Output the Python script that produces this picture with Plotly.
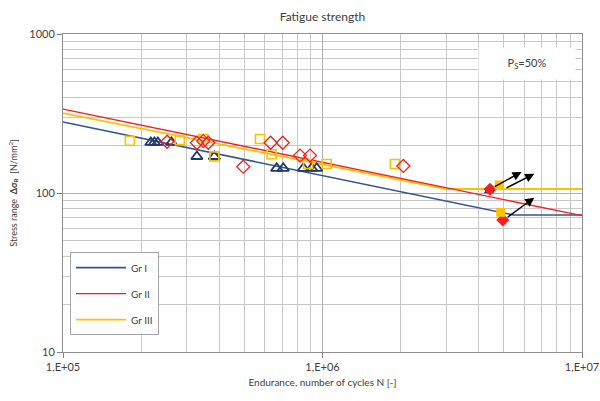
import numpy as np
import plotly.graph_objects as go

# ---------------- data ----------------
# S-N curves (endurance N, stress range in N/mm2)
gr1_line_n = [1e5, 5.45e6, 1e7]
gr1_line_s = [279.5, 72.7, 72.7]
gr2_line_n = [1e5, 1e7]
gr2_line_s = [337, 72]
gr3_line_n = [1e5, 3.0e6, 1e7]
gr3_line_s = [318, 106, 106]

# test results (open markers)
gr1_n = [2.18e5, 2.25e5, 2.32e5, 2.62e5, 3.28e5, 3.83e5, 6.66e5, 7.06e5, 8.44e5, 9.08e5, 9.5e5]
gr1_s = [208, 208, 208, 208, 169.7, 169.7, 143, 143, 143, 143, 143]
gr2_n = [2.52e5, 3.28e5, 3.47e5, 3.63e5, 4.95e5, 6.31e5, 7.03e5, 8.19e5, 8.95e5, 2.05e6]
gr2_s = [210, 207, 212, 207, 146.4, 207, 207, 172, 172, 148]
gr3_n = [1.81e5, 2.82e5, 3.47e5, 3.83e5, 5.74e5, 6.37e5, 8.79e5, 1.038e6, 1.9e6]
gr3_s = [213, 215, 218.6, 170, 218.6, 175.2, 152.2, 152.2, 152.2]

# run-outs (filled markers)
gr1_ro_n = [4.38e6, 5.0e6]
gr1_ro_s = [103, 68.6]
gr2_ro_n = [4.42e6, 4.95e6]
gr2_ro_s = [105.5, 67.6]
gr3_ro_n = [4.80e6, 4.86e6]
gr3_ro_s = [112.3, 75.6]

# run-out arrows (tail -> head)
arrow_tail_n = [4.55e6, 5.05e6, 5.10e6]
arrow_tail_s = [108.5, 106.5, 69.3]
arrow_head_n = [5.85e6, 6.55e6, 6.55e6]
arrow_head_s = [135.5, 132.0, 93.5]

x_tickvals = [1e5, 1e6, 1e7]
x_ticktext = ["1,E+05", "1,E+06", "1,E+07"]
y_tickvals = [10, 100, 1000]
y_ticktext = ["10", "100", "1000"]

# ---------------- style ----------------
BLUE = "#34558c"
BLUE_M = "#1f3a6e"
RED = "#f41e1e"
YEL = "#ffc000"
FONT = "Lato"
TXT = "#404040"
GRID = "#c8c8c8"

fig = go.Figure()

fig.add_trace(go.Scatter(x=gr1_line_n, y=gr1_line_s, mode="lines", name="Gr I",
                         line=dict(color=BLUE, width=1.6), legendrank=1, legendgroup="a"))
fig.add_trace(go.Scatter(x=gr3_line_n, y=gr3_line_s, mode="lines", name="Gr III",
                         line=dict(color=YEL, width=1.8), legendrank=3, legendgroup="c"))
fig.add_trace(go.Scatter(x=gr2_line_n, y=gr2_line_s, mode="lines", name="Gr II",
                         line=dict(color=RED, width=1.4), legendrank=2, legendgroup="b"))

fig.add_trace(go.Scatter(x=gr1_n, y=gr1_s, mode="markers", showlegend=False,
                         marker=dict(symbol="triangle-up-open", size=10, color=BLUE_M,
                                     line=dict(width=1.8, color=BLUE_M))))
fig.add_trace(go.Scatter(x=gr3_n, y=gr3_s, mode="markers", showlegend=False,
                         marker=dict(symbol="square-open", size=9, color=YEL,
                                     line=dict(width=1.6, color=YEL))))
fig.add_trace(go.Scatter(x=gr2_n, y=gr2_s, mode="markers", showlegend=False,
                         marker=dict(symbol="diamond-open", size=10, color=RED,
                                     line=dict(width=1.3, color=RED))))

fig.add_trace(go.Scatter(x=gr1_ro_n, y=gr1_ro_s, mode="markers", showlegend=False,
                         marker=dict(symbol="triangle-up", size=9, color=BLUE_M)))
fig.add_trace(go.Scatter(x=gr2_ro_n, y=gr2_ro_s, mode="markers", showlegend=False,
                         marker=dict(symbol="diamond", size=10, color=RED)))
fig.add_trace(go.Scatter(x=gr3_ro_n, y=gr3_ro_s, mode="markers", showlegend=False,
                         marker=dict(symbol="square", size=9, color=YEL)))

annotations = []
for tn, ts, hn, hs in zip(arrow_tail_n, arrow_tail_s, arrow_head_n, arrow_head_s):
    annotations.append(dict(x=np.log10(hn), y=np.log10(hs), ax=np.log10(tn), ay=np.log10(ts),
                            xref="x", yref="y", axref="x", ayref="y", text="",
                            showarrow=True, arrowhead=2, arrowsize=1.3, arrowwidth=1.4,
                            arrowcolor="black"))
annotations.append(dict(x=0.894, y=0.906, xref="paper", yref="paper",
                        xanchor="center", yanchor="middle",
                        text="P<sub>S</sub>=50%", showarrow=False, bgcolor="white",
                        font=dict(family=FONT, size=11, color=TXT),
                        borderpad=8, width=80))

fig.update_layout(
    width=600, height=401,
    margin=dict(l=63, r=18, t=34, b=49, autoexpand=False),
    paper_bgcolor="white", plot_bgcolor="white",
    font=dict(family=FONT, size=11, color=TXT),
    title=dict(text="Fatigue strength", x=0.5, xref="paper", y=0.957, yanchor="middle",
               font=dict(family=FONT, size=12, color=TXT)),
    legend=dict(x=0.0135, y=0.314, xanchor="left", yanchor="top",
                bgcolor="white", bordercolor="#a6a6a6", borderwidth=1,
                font=dict(family=FONT, size=10, color=TXT),
                traceorder="grouped", tracegroupgap=7, itemwidth=50),
    annotations=annotations,
    xaxis=dict(type="log", range=[5, 7], tickvals=x_tickvals, ticktext=x_ticktext,
               automargin=False,
               showgrid=True, gridcolor="#b0b0b0", gridwidth=1,
               minor=dict(showgrid=True, gridcolor=GRID, dtick="D1", ticks=""),
               ticks="outside", ticklen=5, tickcolor="#808080",
               showline=True, linecolor="#909090", mirror=True, zeroline=False,
               tickfont=dict(family=FONT, size=11, color=TXT),
               title=dict(text="Endurance, number of cycles N [-]", standoff=6,
                          font=dict(family=FONT, size=10, color=TXT))),
    yaxis=dict(type="log", range=[1, 3], tickvals=y_tickvals, ticktext=y_ticktext,
               automargin=False,
               showgrid=True, gridcolor="#b0b0b0", gridwidth=1,
               minor=dict(showgrid=True, gridcolor=GRID, dtick="D1", ticks=""),
               ticks="outside", ticklen=5, tickcolor="#808080",
               showline=True, linecolor="#909090", mirror=True, zeroline=False,
               tickfont=dict(family=FONT, size=11, color=TXT),
               title=dict(text="Stress range  <b>Δσ<sub>R</sub></b>  [N/mm<sup>2</sup>]",
                          standoff=10, font=dict(family=FONT, size=9, color=TXT))),
)

fig.write_html("out.html", config={"displayModeBar": False},
               post_script="document.body.style.margin='0';document.body.style.overflow='hidden';")
